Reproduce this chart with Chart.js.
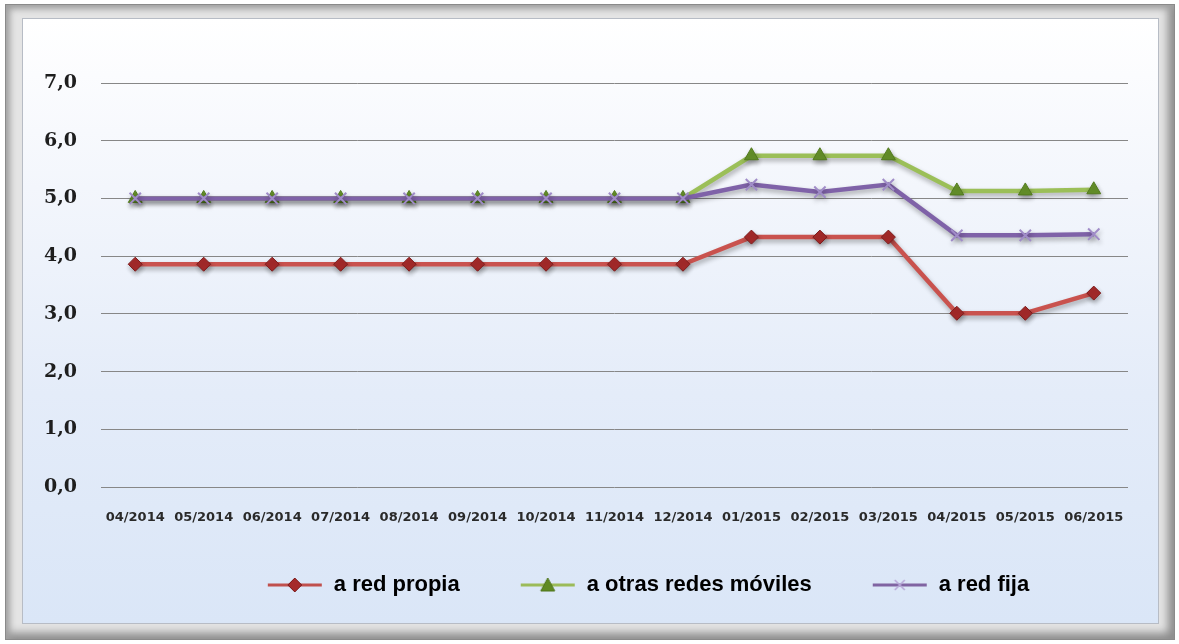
<!DOCTYPE html>
<html>
<head>
<meta charset="utf-8">
<script src="https://cdn.jsdelivr.net/npm/chart.js@4"></script>
<style>
  html, body { margin: 0; padding: 0; background: #fff; }
  #frame {
    position: absolute; left: 5px; top: 4px; width: 1170px; height: 636px; box-sizing: border-box;
    border: 1px solid #8a8a8a; background: #e4e4e4;
    box-shadow: inset 4px 4px 6px #a0a0a0, inset -6px -6px 9px #8c8c8c;
  }
  #panel {
    position: absolute; left: 22px; top: 18px; width: 1137px; height: 606px; box-sizing: border-box;
    border: 1px solid #b7bcc5;
    background: linear-gradient(to bottom, #ffffff 0%, #f3f6fc 28%, #e4ecf9 62%, #dae6f7 100%);
  }
  #wrap { position: absolute; left: 0; top: 0; width: 1179px; height: 644px; }
</style>
</head>
<body>
<div id="frame"></div>
<div id="panel"></div>
<div id="wrap"><canvas id="chart1" width="1179" height="644"></canvas></div>
<script>
const months = ['04/2014', '05/2014', '06/2014', '07/2014', '08/2014', '09/2014', '10/2014', '11/2014',
  '12/2014', '01/2015', '02/2015', '03/2015', '04/2015', '05/2015', '06/2015'];
const redPropia = [3.86, 3.86, 3.86, 3.86, 3.86, 3.86, 3.86, 3.86, 3.86, 4.33, 4.33, 4.33, 3.01, 3.01, 3.36];
const otrasRedes = [5.0, 5.0, 5.0, 5.0, 5.0, 5.0, 5.0, 5.0, 5.0, 5.74, 5.74, 5.74, 5.13, 5.13, 5.15];
const redFija = [5.0, 5.0, 5.0, 5.0, 5.0, 5.0, 5.0, 5.0, 5.0, 5.24, 5.11, 5.24, 4.36, 4.36, 4.38];
const seriesNames = ['a red propia', 'a otras redes móviles', 'a red fija'];
const yTicks = [0, 1, 2, 3, 4, 5, 6, 7];

// small line + marker picture used as legend symbol
function legendSymbol(lineColor, style, fill, stroke) {
  const c = document.createElement('canvas');
  c.width = 56; c.height = 22;
  const g = c.getContext('2d');
  g.strokeStyle = lineColor;
  g.lineWidth = 3;
  g.beginPath(); g.moveTo(1, 11); g.lineTo(55, 11); g.stroke();
  g.fillStyle = fill; g.strokeStyle = stroke; g.lineWidth = 1;
  g.beginPath();
  if (style === 'diamond') {
    g.moveTo(28, 4); g.lineTo(35, 11); g.lineTo(28, 18); g.lineTo(21, 11); g.closePath();
    g.fill(); g.stroke();
  } else if (style === 'triangle') {
    g.moveTo(28, 4); g.lineTo(35, 17); g.lineTo(21, 17); g.closePath();
    g.fill(); g.stroke();
  } else {
    g.lineWidth = 1.5;
    g.moveTo(23, 6); g.lineTo(33, 16); g.moveTo(33, 6); g.lineTo(23, 16);
    g.stroke();
  }
  return c;
}
const symbols = [
  legendSymbol('#c0504d', 'diamond', '#a52a2a', '#7d1c1c'),
  legendSymbol('#9bbb59', 'triangle', '#5f8a22', '#4e741b'),
  legendSymbol('#8064a2', 'cross', '#b7a7d8', '#b7a7d8')
];

const lineShadow = {
  id: 'lineShadow',
  beforeDatasetsDraw(chart) {
    const ctx = chart.ctx;
    ctx.save();
    ctx.shadowColor = 'rgba(0, 0, 0, 0.32)';
    ctx.shadowBlur = 5;
    ctx.shadowOffsetX = 1;
    ctx.shadowOffsetY = 3;
  },
  afterDatasetsDraw(chart) {
    chart.ctx.restore();
  }
};

// legend sits a bit right of the canvas centre and higher than the layout puts it
const legendShift = {
  id: 'legendShift',
  afterLayout(chart) { chart.legend._moved = false; },
  beforeDraw(chart) {
    const lg = chart.legend;
    if (!lg || lg._moved) return;
    const dx = 648 - (lg.left + lg.right) / 2;
    lg.left += dx; lg.right += dx;
    lg.top -= 18; lg.bottom -= 18;
    lg._moved = true;
  }
};

document.addEventListener('DOMContentLoaded', () => {
  const ctx1 = document.getElementById('chart1').getContext('2d');
  new Chart(ctx1, {
    type: 'line',
    data: {
      labels: months,
      datasets: [{
        label: seriesNames[0],
        data: redPropia,
        borderColor: '#c9524e',
        borderWidth: 4.5,
        pointStyle: 'rectRot',
        pointRadius: 7,
        pointBackgroundColor: '#a52a2a',
        pointBorderColor: '#7d1c1c',
        pointBorderWidth: 1,
        tension: 0,
        order: 2
      }, {
        label: seriesNames[1],
        data: otrasRedes,
        borderColor: '#9bbf58',
        borderWidth: 4.5,
        pointStyle: 'triangle',
        pointRadius: 8,
        pointBackgroundColor: '#66922a',
        pointBorderColor: '#527a1e',
        pointBorderWidth: 1,
        tension: 0,
        order: 1
      }, {
        label: seriesNames[2],
        data: redFija,
        borderColor: '#7f62a8',
        borderWidth: 4.5,
        pointStyle: 'crossRot',
        pointRadius: 8,
        pointBorderColor: '#a08cc8',
        pointBorderWidth: 2,
        tension: 0,
        order: 0
      }]
    },
    options: {
      responsive: false,
      animation: false,
      layout: { padding: { top: 83, right: 51, bottom: 20, left: 0 } },
      plugins: {
        tooltip: { enabled: false },
        legend: {
          display: true,
          position: 'bottom',
          labels: {
            usePointStyle: true,
            pointStyleWidth: 56,
            padding: 60,
            color: '#111',
            font: { family: "'Liberation Sans', Arial, sans-serif", size: 22, weight: 'bold' },
            generateLabels: (chart) => chart.data.datasets.map((ds, i) => ({
              text: ds.label,
              datasetIndex: i,
              pointStyle: symbols[i],
              fillStyle: ds.borderColor,
              strokeStyle: ds.borderColor,
              lineWidth: 0,
              hidden: false
            }))
          }
        }
      },
      scales: {
        x: {
          offset: true,
          grid: { display: false, drawTicks: false },
          border: { display: false },
          afterFit: (scale) => { scale.height = 45; },
          ticks: {
            autoSkip: false,
            maxRotation: 0,
            minRotation: 0,
            padding: 23,
            color: '#2a2a2a',
            font: { family: "DejaVu Sans", size: 13, weight: 'bold' }
          }
        },
        y: {
          min: yTicks[0],
          max: yTicks[yTicks.length - 1],
          afterFit: (scale) => { scale.width = 101; },
          afterBuildTicks: (scale) => { scale.ticks = yTicks.map(v => ({ value: v })); },
          grid: { color: '#878787', lineWidth: 1, drawTicks: false },
          border: { display: false },
          ticks: {
            padding: 24,
            color: '#1e1e1e',
            font: { family: "'DejaVu Serif', serif", size: 19, weight: 'bold' },
            callback: (v) => Number(v).toFixed(1).replace('.', ',')
          }
        }
      }
    },
    plugins: [lineShadow, legendShift]
  });
});
</script>
</body>
</html>
